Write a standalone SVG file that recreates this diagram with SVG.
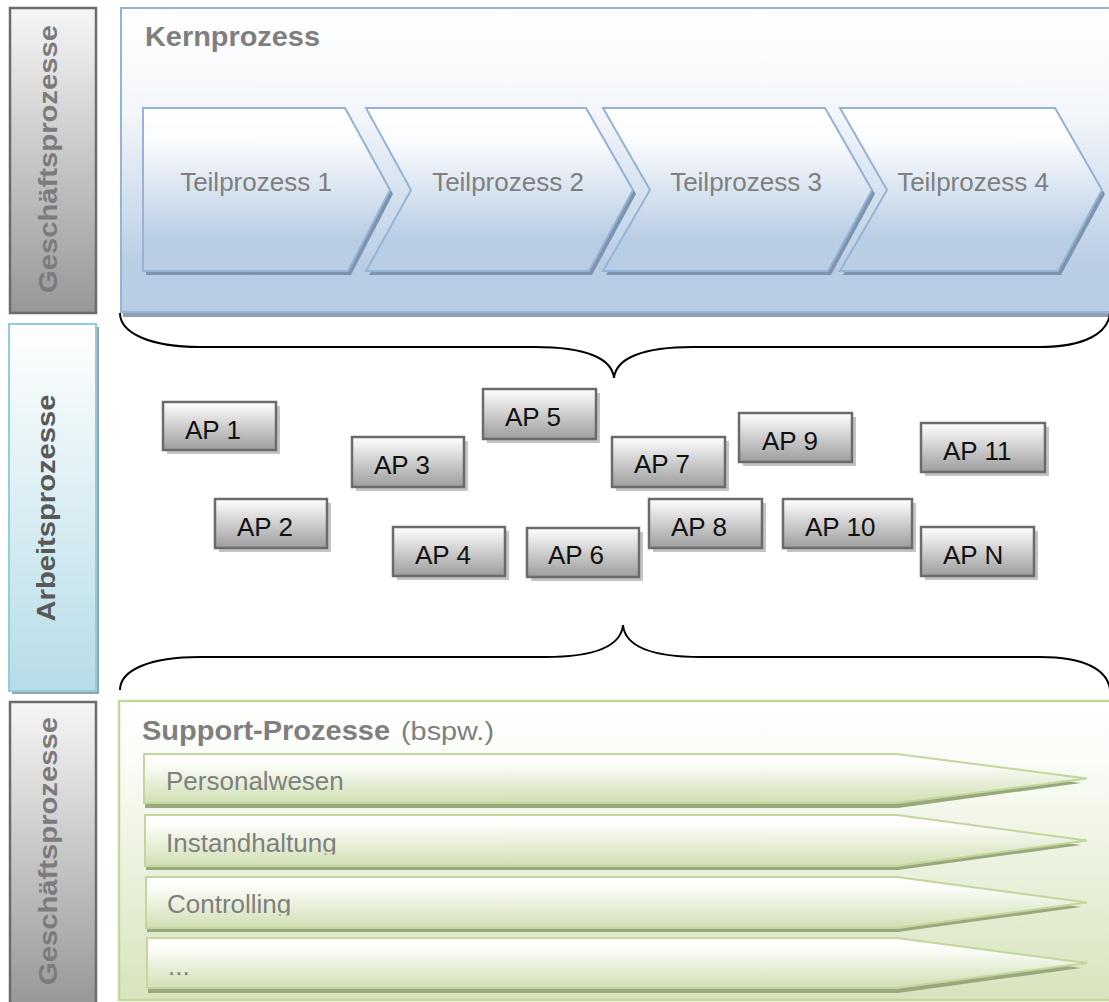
<svg xmlns="http://www.w3.org/2000/svg" width="1109" height="1002" viewBox="0 0 1109 1002">
<defs>
<linearGradient id="gGray" x1="0" y1="0" x2="0" y2="1"><stop offset="0" stop-color="#f6f6f6"/><stop offset="1" stop-color="#979797"/></linearGradient>
<linearGradient id="gBlueLbl" x1="0" y1="0" x2="0" y2="1"><stop offset="0" stop-color="#ffffff"/><stop offset="1" stop-color="#b6dce7"/></linearGradient>
<linearGradient id="gKern" x1="0" y1="0" x2="0" y2="1"><stop offset="0" stop-color="#ffffff"/><stop offset="0.35" stop-color="#f3f6fa"/><stop offset="0.85" stop-color="#b9cde5"/><stop offset="1" stop-color="#b8cce4"/></linearGradient>
<linearGradient id="gChev" x1="0" y1="0" x2="0" y2="1"><stop offset="0" stop-color="#ffffff"/><stop offset="0.2" stop-color="#fbfcfd"/><stop offset="0.8" stop-color="#b9cde5"/><stop offset="1" stop-color="#b9cde5"/></linearGradient>
<linearGradient id="gAP" x1="0" y1="0" x2="0" y2="1"><stop offset="0" stop-color="#ffffff"/><stop offset="1" stop-color="#9d9d9d"/></linearGradient>
<linearGradient id="gSup" x1="0" y1="0" x2="0" y2="1"><stop offset="0" stop-color="#ffffff"/><stop offset="0.2" stop-color="#fafcf7"/><stop offset="1" stop-color="#d7e4bd"/></linearGradient>
<linearGradient id="gRow" x1="0" y1="0" x2="0" y2="1"><stop offset="0" stop-color="#ffffff"/><stop offset="0.2" stop-color="#fcfdfa"/><stop offset="1" stop-color="#d0dfb3"/></linearGradient>
<linearGradient id="gTxtTop" gradientUnits="userSpaceOnUse" x1="0" y1="25" x2="0" y2="293"><stop offset="0" stop-color="#7b7b7b"/><stop offset="1" stop-color="#b8b8b8"/></linearGradient>
<linearGradient id="gTxtBot" gradientUnits="userSpaceOnUse" x1="0" y1="717" x2="0" y2="985"><stop offset="0" stop-color="#7b7b7b"/><stop offset="1" stop-color="#b8b8b8"/></linearGradient>
<clipPath id="c2"><rect x="140" y="810" width="800" height="44.5"/></clipPath>
<clipPath id="c3"><rect x="140" y="872" width="800" height="43.5"/></clipPath>
<style>
.lbl{font-family:"Liberation Sans",Arial,sans-serif;font-weight:bold;}
.ttl{font-family:"Liberation Sans",Arial,sans-serif;font-weight:bold;fill:#7f7f7f;font-size:27px;}
.reg{font-family:"Liberation Sans",Arial,sans-serif;fill:#7f7f7f;font-size:26px;}
.tp{font-family:"Liberation Sans",Arial,sans-serif;fill:#7f7f7f;font-size:26px;text-anchor:middle;}
.ap rect.b{fill:url(#gAP);stroke:#6b6b6b;stroke-width:2.5;}
.ap rect.s{fill:#c4c4c4;}
.ap text{font-family:"Liberation Sans",Arial,sans-serif;fill:#111;font-size:26px;}
.chev .s{fill:#7e93ad;}
.chev .b{fill:url(#gChev);stroke:#95b3d7;stroke-width:2;}
.row .s{fill:#9aa87e;}
.row .b{fill:url(#gRow);stroke:#c3d69b;stroke-width:2;}
.brace{fill:none;stroke:#000;stroke-width:2;}
</style>
</defs>
<rect width="1109" height="1002" fill="#ffffff"/>

<!-- side labels -->
<g id="lbl-geschaeft-top">
<rect x="10" y="8" width="86" height="305" fill="url(#gGray)" stroke="#6b6b6b" stroke-width="2.5"/>
<text class="lbl" transform="translate(57,159) rotate(-90)" text-anchor="middle" font-size="26" textLength="268" lengthAdjust="spacingAndGlyphs" fill="url(#gTxtTop)">Geschäftsprozesse</text>
</g>
<g id="lbl-arbeit">
<rect x="12" y="327" width="87" height="367" fill="#8fa7ae"/>
<rect x="9" y="324" width="87" height="367" fill="url(#gBlueLbl)" stroke="#92cddc" stroke-width="2"/>
<text class="lbl" transform="translate(55,508) rotate(-90)" text-anchor="middle" font-size="25" textLength="227" lengthAdjust="spacingAndGlyphs" fill="#595959">Arbeitsprozesse</text>
</g>
<g id="lbl-geschaeft-bottom">
<rect x="10" y="702" width="86" height="305" fill="url(#gGray)" stroke="#6b6b6b" stroke-width="2.5"/>
<text class="lbl" transform="translate(57,851) rotate(-90)" text-anchor="middle" font-size="26" textLength="268" lengthAdjust="spacingAndGlyphs" fill="url(#gTxtBot)">Geschäftsprozesse</text>
</g>

<!-- Kernprozess -->
<g id="kernprozess">
<rect x="123" y="12" width="1000" height="305" fill="#909fb3"/>
<rect x="121" y="8" width="1000" height="304" fill="url(#gKern)" stroke="#95b3d7" stroke-width="2"/>
<text class="ttl" x="145" y="46" textLength="175" lengthAdjust="spacingAndGlyphs">Kernprozess</text>
</g>
<g id="tp1" class="chev">
<path class="s" d="M146,112 L348,112 L393,194 L351,275 L146,275 Z"/>
<path class="b" d="M143,108 L345,108 L390,190 L348,271 L143,271 Z"/>
<text class="tp" x="256" y="191">Teilprozess 1</text>
</g>
<g id="tp2" class="chev">
<path class="s" d="M369,112 L589,112 L636,194 L592,275 L369,275 L414,194 Z"/>
<path class="b" d="M366,108 L586,108 L633,190 L589,271 L366,271 L411,190 Z"/>
<text class="tp" x="508" y="191">Teilprozess 2</text>
</g>
<g id="tp3" class="chev">
<path class="s" d="M606,112 L828,112 L875,194 L831,275 L606,275 L653,194 Z"/>
<path class="b" d="M603,108 L825,108 L872,190 L828,271 L603,271 L650,190 Z"/>
<text class="tp" x="746" y="191">Teilprozess 3</text>
</g>
<g id="tp4" class="chev">
<path class="s" d="M843,112 L1058,112 L1105,194 L1061,275 L843,275 L890,194 Z"/>
<path class="b" d="M840,108 L1055,108 L1102,190 L1058,271 L840,271 L887,190 Z"/>
<text class="tp" x="973" y="191">Teilprozess 4</text>
</g>

<!-- connectors (braces) -->
<g id="connectors">
<path class="brace" d="M120,313 C120,333 150,347 200,347 L535,347 C585,347 612,358 614,378 C616,358 643,347 693,347 L1040,347 C1085,347 1108,333 1110,313"/>
<path class="brace" d="M120,690 C120,670 150,657 200,657 L545,657 C595,657 621,646 623,625 C625,646 651,657 701,657 L1040,657 C1085,657 1108,670 1110,690"/>
</g>

<!-- Arbeitsprozesse -->
<g id="ap1" class="ap"><rect class="s" x="167" y="406" width="113" height="48"/><rect class="b" x="163" y="402" width="113" height="48"/><text x="185" y="439">AP 1</text></g>
<g id="ap2" class="ap"><rect class="s" x="219" y="503" width="112" height="49"/><rect class="b" x="215" y="499" width="112" height="49"/><text x="237" y="536">AP 2</text></g>
<g id="ap3" class="ap"><rect class="s" x="356" y="441" width="112" height="50"/><rect class="b" x="352" y="437" width="112" height="50"/><text x="374" y="474">AP 3</text></g>
<g id="ap4" class="ap"><rect class="s" x="397" y="531" width="112" height="49"/><rect class="b" x="393" y="527" width="112" height="49"/><text x="415" y="564">AP 4</text></g>
<g id="ap5" class="ap"><rect class="s" x="487" y="393" width="113" height="50"/><rect class="b" x="483" y="389" width="113" height="50"/><text x="505" y="426">AP 5</text></g>
<g id="ap6" class="ap"><rect class="s" x="531" y="532" width="112" height="49"/><rect class="b" x="527" y="528" width="112" height="49"/><text x="548" y="564">AP 6</text></g>
<g id="ap7" class="ap"><rect class="s" x="616" y="441" width="113" height="50"/><rect class="b" x="612" y="437" width="113" height="50"/><text x="634" y="473">AP 7</text></g>
<g id="ap8" class="ap"><rect class="s" x="653" y="503" width="113" height="49"/><rect class="b" x="649" y="499" width="113" height="49"/><text x="671" y="536">AP 8</text></g>
<g id="ap9" class="ap"><rect class="s" x="743" y="417" width="113" height="49"/><rect class="b" x="739" y="413" width="113" height="49"/><text x="762" y="450">AP 9</text></g>
<g id="ap10" class="ap"><rect class="s" x="787" y="503" width="129" height="49"/><rect class="b" x="783" y="499" width="129" height="49"/><text x="805" y="536">AP 10</text></g>
<g id="ap11" class="ap"><rect class="s" x="925" y="427" width="124" height="49"/><rect class="b" x="921" y="423" width="124" height="49"/><text x="943" y="460">AP 11</text></g>
<g id="apN" class="ap"><rect class="s" x="925" y="531" width="113" height="49"/><rect class="b" x="921" y="527" width="113" height="49"/><text x="943" y="564">AP N</text></g>

<!-- Support-Prozesse -->
<g id="support">
<rect x="119" y="701" width="1000" height="299" fill="url(#gSup)" stroke="#c3d69b" stroke-width="2.5"/>
<text class="ttl" x="142" y="740" textLength="248" lengthAdjust="spacingAndGlyphs">Support-Prozesse</text>
<text class="reg" x="401" y="740" font-size="27" textLength="93" lengthAdjust="spacingAndGlyphs">(bspw.)</text>
</g>
<g id="row1" class="row">
<path class="s" d="M145,758 L898,758 L1081,783 L898,808 L145,808 Z"/>
<path class="b" d="M144,754 L897,754 L1087,778.5 L897,803 L144,803 Z"/>
<text class="reg" x="166" y="790">Personalwesen</text>
</g>
<g id="row2" class="row">
<path class="s" d="M146,819 L898,819 L1081,845 L898,870 L146,870 Z"/>
<path class="b" d="M145,815 L897,815 L1087,840.5 L897,866 L145,866 Z"/>
<text class="reg" x="166" y="852" clip-path="url(#c2)">Instandhaltung</text>
</g>
<g id="row3" class="row">
<path class="s" d="M147,881 L898,881 L1081,907 L898,932 L147,932 Z"/>
<path class="b" d="M146,877 L897,877 L1087,902.5 L897,928 L146,928 Z"/>
<text class="reg" x="167" y="913" clip-path="url(#c3)">Controlling</text>
</g>
<g id="row4" class="row">
<path class="s" d="M148,942 L898,942 L1081,968 L898,993 L148,993 Z"/>
<path class="b" d="M147,938 L897,938 L1087,963 L897,988 L147,988 Z"/>
<text class="reg" x="168" y="975">...</text>
</g>
</svg>
